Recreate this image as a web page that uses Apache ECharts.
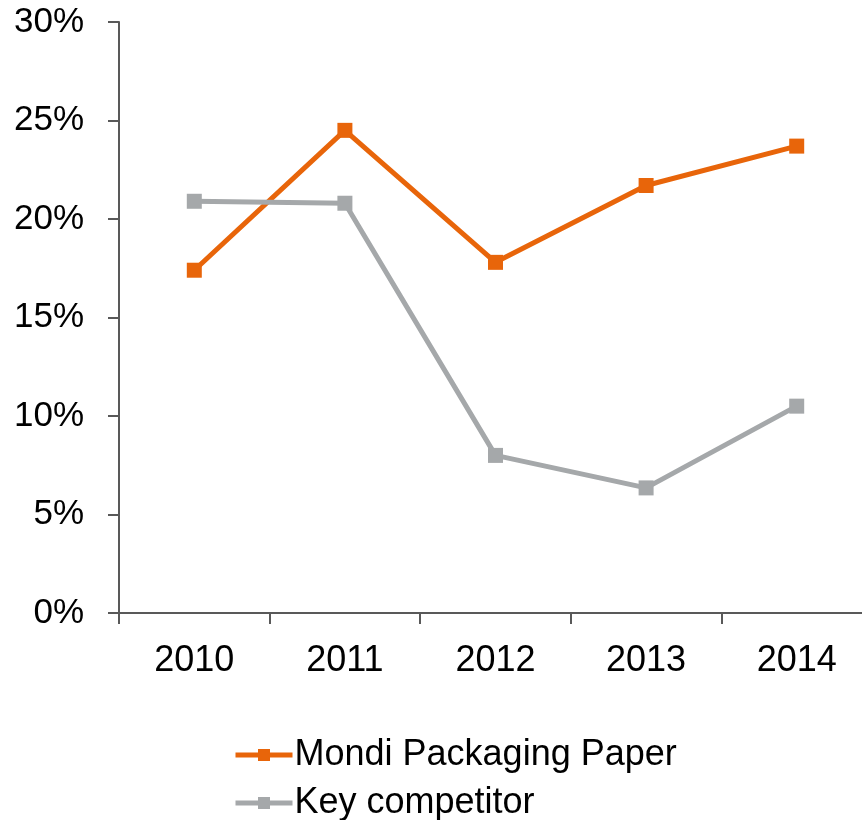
<!DOCTYPE html>
<html>
<head>
<meta charset="utf-8">
<script src="https://cdn.jsdelivr.net/npm/echarts@6/dist/echarts.min.js"></script>
<style>
html, body { margin: 0; padding: 0; background: #fff; overflow: hidden; }
#main { width: 872px; height: 820px; }
</style>
</head>
<body>
<div id="main"></div>
<script>
var years = ['2010', '2011', '2012', '2013', '2014'];
var mondi = [17.4, 24.5, 17.8, 21.7, 23.7];
var competitor = [20.9, 20.8, 8.0, 6.35, 10.5];

(function setline(){
    // container is a bit wider than the window so the last category runs off the edge
    var chart = echarts.init(document.getElementById('main'));
    var legendText = {fontSize: 36, color: '#000', fontFamily: 'Liberation Sans', padding: [0, 0, 0, -3]};
    var option = {
    animation: false,
    grid: {left: 119, top: 22, right: 0, height: 591},
    legend: [
        {
            left: 228,
            top: 732,
            itemWidth: 57,
            itemHeight: 15,
            lineStyle: {width: 5},
            textStyle: legendText,
            data: ['Mondi Packaging Paper']
        },
        {
            left: 228,
            top: 780,
            itemWidth: 57,
            itemHeight: 15,
            lineStyle: {width: 5},
            textStyle: legendText,
            data: ['Key competitor']
        }
    ],
    xAxis: [
        {
            type: 'category',
            data: years,
            axisLine: {lineStyle: {color: '#595959', width: 2}},
            axisTick: {show: true, length: 11, lineStyle: {color: '#595959', width: 2}},
            axisLabel: {fontSize: 36, color: '#000', fontFamily: 'Liberation Sans', margin: 30}
        }
    ],
    yAxis: [
        {
            type: 'value',
            min: 0,
            max: 30,
            interval: 5,
            splitLine: {show: false},
            axisLine: {show: true, lineStyle: {color: '#595959', width: 2}},
            axisTick: {show: true, length: 11, lineStyle: {color: '#595959', width: 2}},
            axisLabel: {fontSize: 35, color: '#000', fontFamily: 'Liberation Sans', margin: 35, formatter: '{value}%'}
        }
    ],
    series: [
        {
            name: 'Mondi Packaging Paper',
            type: 'line',
            data: mondi,
            symbol: 'rect',
            symbolSize: 15,
            lineStyle: {color: '#E8650A', width: 5},
            itemStyle: {color: '#E8650A'}
        },
        {
            name: 'Key competitor',
            type: 'line',
            data: competitor,
            symbol: 'rect',
            symbolSize: 15,
            lineStyle: {color: '#A5A8AA', width: 5},
            itemStyle: {color: '#A5A8AA'}
        }
    ]
    };
    chart.setOption(option);
})();
</script>
</body>
</html>
